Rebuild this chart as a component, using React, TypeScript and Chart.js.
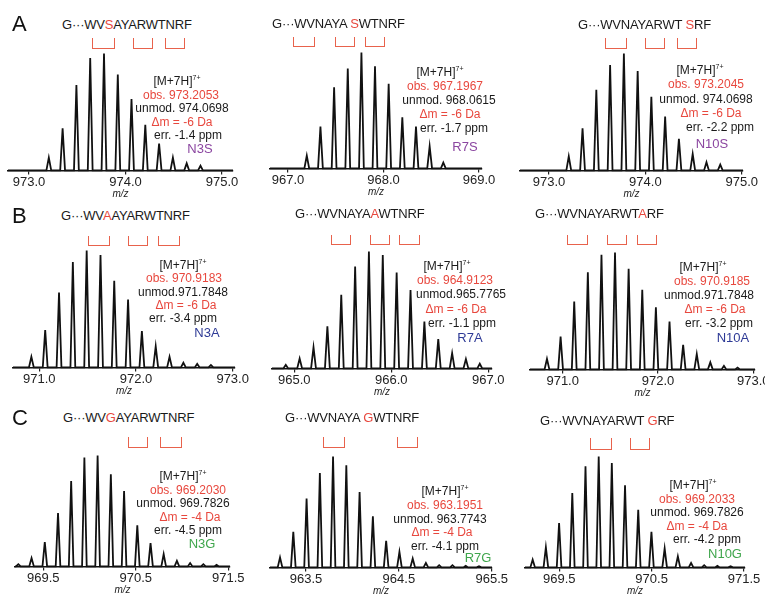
import React, { useEffect, useRef } from "react";
import { Chart, registerables } from "chart.js";
Chart.register(...registerables);

const FONT = "'Liberation Sans', Arial, Helvetica, sans-serif";
const RED = "#e8483e";
const BRACKET = "#e8624c";
const PURPLE = "#8b46a0";
const BLUE = "#2e3a96";
const GREEN = "#3fa64c";

// ---- data: isotope peak m/z and relative intensity per panel ----
const mzA1 = [973.205, 973.348, 973.491, 973.634, 973.777, 973.92, 974.062, 974.205, 974.348, 974.491, 974.634, 974.777];
const intA1 = [0.11, 0.36, 0.73, 0.96, 1.0, 0.82, 0.61, 0.39, 0.23, 0.11, 0.06, 0.04];
const mzA2 = [967.197, 967.34, 967.483, 967.626, 967.769, 967.911, 968.054, 968.197, 968.34, 968.483, 968.626];
const intA2 = [0.11, 0.36, 0.7, 0.86, 1.0, 0.88, 0.73, 0.44, 0.36, 0.19, 0.05];
const mzA3 = [973.205, 973.348, 973.491, 973.634, 973.777, 973.92, 974.062, 974.205, 974.348, 974.491, 974.634, 974.777];
const intA3 = [0.12, 0.36, 0.69, 0.9, 1.0, 0.85, 0.63, 0.46, 0.27, 0.14, 0.07, 0.05];
const mzB1 = [970.918, 971.061, 971.204, 971.347, 971.49, 971.633, 971.775, 971.918, 972.061, 972.204, 972.347, 972.49, 972.633, 972.775];
const intB1 = [0.09, 0.32, 0.64, 0.9, 1.0, 0.96, 0.74, 0.58, 0.31, 0.18, 0.09, 0.04, 0.03, 0.02];
const mzB2 = [964.912, 965.055, 965.198, 965.341, 965.484, 965.627, 965.769, 965.912, 966.055, 966.198, 966.341, 966.484, 966.627, 966.769, 966.912];
const intB2 = [0.03, 0.085, 0.18, 0.36, 0.63, 0.87, 1.0, 0.97, 0.82, 0.67, 0.4, 0.25, 0.13, 0.08, 0.04];
const mzB3 = [970.835, 970.978, 971.121, 971.264, 971.407, 971.549, 971.692, 971.835, 971.978, 972.121, 972.264, 972.407, 972.549, 972.692, 972.835];
const intB3 = [0.09, 0.28, 0.58, 0.83, 0.98, 1.0, 0.86, 0.68, 0.53, 0.41, 0.21, 0.13, 0.06, 0.03, 0.015];
const mzC1 = [969.23, 969.373, 969.516, 969.659, 969.801, 969.944, 970.087, 970.23, 970.373, 970.516, 970.659, 970.801, 970.944, 971.087, 971.23, 971.373];
const intC1 = [0.02, 0.075, 0.22, 0.48, 0.77, 0.98, 1.0, 0.83, 0.68, 0.37, 0.21, 0.11, 0.05, 0.03, 0.02, 0.015];
const mzC2 = [963.22, 963.363, 963.506, 963.649, 963.791, 963.934, 964.077, 964.22, 964.363, 964.506, 964.649, 964.791, 964.934, 965.077, 965.22, 965.363];
const intC2 = [0.09, 0.32, 0.62, 0.85, 1.0, 0.92, 0.68, 0.46, 0.24, 0.14, 0.08, 0.04, 0.02, 0.02, 0.015, 0.01];
const mzC3 = [969.212, 969.355, 969.498, 969.641, 969.784, 969.927, 970.069, 970.212, 970.355, 970.498, 970.641, 970.784, 970.927, 971.069, 971.212, 971.355];
const intC3 = [0.07, 0.18, 0.4, 0.67, 0.91, 1.0, 0.94, 0.74, 0.52, 0.32, 0.17, 0.1, 0.04, 0.02, 0.015, 0.01];

// tick labels
const ticksA1 = [973.0, 974.0, 975.0];
const ticksA2 = [967.0, 968.0, 969.0];
const ticksA3 = [973.0, 974.0, 975.0];
const ticksB1 = [971.0, 972.0, 973.0];
const ticksB2 = [965.0, 966.0, 967.0];
const ticksB3 = [971.0, 972.0, 973.0];
const ticksC1 = [969.5, 970.5, 971.5];
const ticksC2 = [963.5, 964.5, 965.5];
const ticksC3 = [969.5, 970.5, 971.5];

// texts
const seqs = [
  ["G\u00B7\u00B7\u00B7WV", "S", "AYARWTNRF"],
  ["G\u00B7\u00B7\u00B7WVNAYA ", "S", "WTNRF"],
  ["G\u00B7\u00B7\u00B7WVNAYARWT ", "S", "RF"],
  ["G\u00B7\u00B7\u00B7WV", "A", "AYARWTNRF"],
  ["G\u00B7\u00B7\u00B7WVNAYA", "A", "WTNRF"],
  ["G\u00B7\u00B7\u00B7WVNAYARWT", "A", "RF"],
  ["G\u00B7\u00B7\u00B7WV", "G", "AYARWTNRF"],
  ["G\u00B7\u00B7\u00B7WVNAYA ", "G", "WTNRF"],
  ["G\u00B7\u00B7\u00B7WVNAYARWT ", "G", "RF"],
];
const obsTexts = ["obs. 973.2053", "obs. 967.1967", "obs. 973.2045", "obs. 970.9183", "obs. 964.9123", "obs. 970.9185", "obs. 969.2030", "obs. 963.1951", "obs. 969.2033"];
const unmodTexts = ["unmod. 974.0698", "unmod. 968.0615", "unmod. 974.0698", "unmod.971.7848", "unmod.965.7765", "unmod.971.7848", "unmod. 969.7826", "unmod. 963.7743", "unmod. 969.7826"];
const dmTexts = ["\u0394m = -6 Da", "\u0394m = -6 Da", "\u0394m = -6 Da", "\u0394m = -6 Da", "\u0394m = -6 Da", "\u0394m = -6 Da", "\u0394m = -4 Da", "\u0394m = -4 Da", "\u0394m = -4 Da"];
const errTexts = ["err. -1.4 ppm", "err. -1.7 ppm", "err. -2.2 ppm", "err. -3.4 ppm", "err. -1.1 ppm", "err. -3.2 ppm", "err. -4.5 ppm", "err. -4.1 ppm", "err. -4.2 ppm"];
const variantLabels = ["N3S", "R7S", "N10S", "N3A", "R7A", "N10A", "N3G", "R7G", "N10G"];
const labelColors = [PURPLE, PURPLE, PURPLE, BLUE, BLUE, BLUE, GREEN, GREEN, GREEN];
const rowLetters = ["A", "B", "C"];

const mzSets = [mzA1, mzA2, mzA3, mzB1, mzB2, mzB3, mzC1, mzC2, mzC3];
const intSets = [intA1, intA2, intA3, intB1, intB2, intB3, intC1, intC2, intC3];
const tickSets = [ticksA1, ticksA2, ticksA3, ticksB1, ticksB2, ticksB3, ticksC1, ticksC2, ticksC3];

// ---- layout (page pixels) ----
const chartLayouts = [
  { start: 8, end: 233, min: 972.782, max: 975.114, baseline: 170, plotH: 117 },
  { start: 270, end: 482, min: 966.812, max: 969.031, baseline: 168.5, plotH: 116 },
  { start: 520, end: 743, min: 972.699, max: 975.013, baseline: 170.5, plotH: 117 },
  { start: 13, end: 235, min: 970.728, max: 973.024, baseline: 367.5, plotH: 117 },
  { start: 272, end: 492, min: 964.77, max: 967.038, baseline: 368, plotH: 117 },
  { start: 530, end: 755, min: 970.657, max: 973.018, baseline: 369, plotH: 117 },
  { start: 15, end: 230, min: 969.194, max: 971.518, baseline: 566.5, plotH: 111 },
  { start: 270, end: 492, min: 963.112, max: 965.503, baseline: 567.5, plotH: 111 },
  { start: 525, end: 745, min: 969.129, max: 971.511, baseline: 567, plotH: 111 },
];
const seqLayouts = [
  { x: 62, y: 25, br: [[92, 115], [133, 153], [165, 185]], bt: 38, bb: 49 },
  { x: 272, y: 24, br: [[293, 315], [335, 355], [365, 385]], bt: 37, bb: 47 },
  { x: 578, y: 25, br: [[605, 627], [645, 665], [677, 697]], bt: 38, bb: 49 },
  { x: 61, y: 216, br: [[88, 110], [128, 148], [158, 180]], bt: 236, bb: 246 },
  { x: 295, y: 214, br: [[331, 351], [370, 390], [399, 420]], bt: 235, bb: 245 },
  { x: 535, y: 214, br: [[567, 588], [607, 627], [637, 657]], bt: 235, bb: 245 },
  { x: 63, y: 418, br: [[128, 148], [160, 182]], bt: 437, bb: 448 },
  { x: 285, y: 418, br: [[323, 345], [397, 418]], bt: 437, bb: 448 },
  { x: 540, y: 421, br: [[590, 612], [630, 650]], bt: 438, bb: 450 },
];
const annLayouts = [
  { cx: 182, y0: 81, lh: 13.6, dx: [-5, -1, 0, 0, 6], ldx: 18, ly: 149 },
  { cx: 449, y0: 72, lh: 14, dx: [-9, -4, 0, 1, 5], ldx: 16, ly: 147 },
  { cx: 706, y0: 70, lh: 14.3, dx: [-6, 0, 0, 5, 14], ldx: 6, ly: 144 },
  { cx: 183, y0: 265, lh: 13.3, dx: [0, 1, 0, 3, 0], ldx: 24, ly: 333 },
  { cx: 461, y0: 266, lh: 14.2, dx: [-14, -6, 0, -5, 1], ldx: 9, ly: 338 },
  { cx: 709, y0: 267, lh: 14, dx: [-6, 3, 0, 6, 10], ldx: 24, ly: 338 },
  { cx: 183, y0: 476, lh: 13.5, dx: [0, 5, 0, 7, 5], ldx: 19, ly: 544 },
  { cx: 440, y0: 491, lh: 13.8, dx: [5, 5, 0, 2, 5], ldx: 38, ly: 558 },
  { cx: 697, y0: 485, lh: 13.5, dx: [-4, 0, 0, 0, 10], ldx: 28, ly: 554 },
];
const letterYs = [24, 216, 418];
const HW = 0.025; // half width of a peak at its base (m/z)

function Spectrum({ idx }: { idx: number }) {
  const wrapRef = useRef<HTMLDivElement>(null);
  const canvasRef = useRef<HTMLCanvasElement>(null);
  const lay = chartLayouts[idx];
  const w = lay.end - lay.start + 40;
  const h = 4 + lay.plotH + 32;
  useEffect(() => {
    const mz = mzSets[idx];
    const inten = intSets[idx];
    const ticks = tickSets[idx];
    const pts: { x: number; y: number }[] = [{ x: lay.min, y: 0 }];
    mz.forEach((m, i) => {
      pts.push({ x: m - HW, y: 0 }, { x: m, y: inten[i] }, { x: m + HW, y: 0 });
    });
    pts.push({ x: lay.max, y: 0 });
    const chart = new Chart(canvasRef.current as HTMLCanvasElement, {
      type: "scatter",
      data: {
        datasets: [
          {
            data: pts,
            showLine: true,
            pointRadius: 0,
            borderColor: "#111",
            borderWidth: 1.8,
            borderJoinStyle: "miter",
            tension: 0,
            clip: 4,
          } as any,
        ],
      },
      options: {
        animation: false,
        responsive: false,
        maintainAspectRatio: false,
        events: [],
        layout: { padding: { left: 20, right: 20, top: 4, bottom: 0 } },
        plugins: { legend: { display: false }, tooltip: { enabled: false } },
        scales: {
          x: {
            type: "linear",
            position: "bottom",
            min: lay.min,
            max: lay.max,
            afterBuildTicks: (axis: any) => {
              axis.ticks = ticks.map((v) => ({ value: v }));
            },
            grid: { drawOnChartArea: false, drawTicks: true, tickLength: 4, color: "#222", lineWidth: 1.2 },
            border: { display: true, color: "#111", width: 1.5 },
            ticks: {
              color: "#222",
              padding: 0,
              maxRotation: 0,
              autoSkip: false,
              font: { family: FONT, size: 13 },
              callback: (v: any) => Number(v).toFixed(1),
            },
            title: {
              display: true,
              text: "m/z",
              color: "#222",
              font: { family: FONT, size: 10, style: "italic" },
              padding: { top: -2, bottom: 0 },
            },
          },
          y: { display: false, min: 0, max: 1 },
        },
      } as any,
    });
    const ca = chart.chartArea;
    (chart.options.scales as any).y.max = (ca.bottom - ca.top) / lay.plotH;
    chart.update();
    if (wrapRef.current) wrapRef.current.style.top = lay.baseline - ca.bottom + "px";
    return () => chart.destroy();
  }, []);
  return (
    <div ref={wrapRef} style={{ position: "absolute", left: lay.start - 20, top: lay.baseline - 4 - lay.plotH, width: w, height: h }}>
      <canvas ref={canvasRef} width={w} height={h} style={{ width: w, height: h, display: "block" }} />
    </div>
  );
}

const textBase: React.CSSProperties = {
  position: "absolute",
  fontFamily: FONT,
  whiteSpace: "nowrap",
};

function Sequence({ idx }: { idx: number }) {
  const s = seqLayouts[idx];
  const [pre, mut, post] = seqs[idx];
  return (
    <>
      <div style={{ ...textBase, left: s.x, top: s.y - 8, fontSize: 13, lineHeight: "16px", color: "#1a1a1a", letterSpacing: -0.2 }}>
        {pre}
        <span style={{ color: RED }}>{mut}</span>
        {post}
      </div>
      {s.br.map(([a, b], k) => (
        <div
          key={k}
          style={{
            position: "absolute",
            left: a,
            top: s.bt,
            width: b - a,
            height: s.bb - s.bt,
            borderLeft: `1.5px solid ${BRACKET}`,
            borderRight: `1.5px solid ${BRACKET}`,
            borderBottom: `1.5px solid ${BRACKET}`,
            boxSizing: "border-box",
          }}
        />
      ))}
    </>
  );
}

function Annotation({ idx }: { idx: number }) {
  const a = annLayouts[idx];
  const lines: [React.ReactNode, string][] = [
    [
      <>
        [M+7H]
        <span style={{ fontSize: 7, position: "relative", top: -5 }}>7+</span>
      </>,
      "#1a1a1a",
    ],
    [obsTexts[idx], RED],
    [unmodTexts[idx], "#1a1a1a"],
    [dmTexts[idx], RED],
    [errTexts[idx], "#1a1a1a"],
  ];
  return (
    <>
      {lines.map(([t, c], k) => (
        <div
          key={k}
          style={{
            ...textBase,
            left: a.cx + a.dx[k],
            top: a.y0 + k * a.lh - 7,
            transform: "translateX(-50%)",
            fontSize: 12,
            lineHeight: "14px",
            color: c,
          }}
        >
          {t}
        </div>
      ))}
      <div
        style={{
          ...textBase,
          left: a.cx + a.ldx,
          top: a.ly - 8,
          transform: "translateX(-50%)",
          fontSize: 13,
          lineHeight: "16px",
          color: labelColors[idx],
        }}
      >
        {variantLabels[idx]}
      </div>
    </>
  );
}

export default function App() {
  const ids = [0, 1, 2, 3, 4, 5, 6, 7, 8];
  return (
    <div style={{ position: "absolute", left: 0, top: 0, width: 765, height: 601, overflow: "hidden", background: "#fff" }}>
      {ids.map((i) => (
        <Spectrum key={"s" + i} idx={i} />
      ))}
      {ids.map((i) => (
        <Sequence key={"q" + i} idx={i} />
      ))}
      {ids.map((i) => (
        <Annotation key={"a" + i} idx={i} />
      ))}
      {rowLetters.map((L, r) => (
        <div key={L} style={{ ...textBase, left: 12, top: letterYs[r] - 12, fontSize: 22, lineHeight: "24px", color: "#111" }}>
          {L}
        </div>
      ))}
    </div>
  );
}
